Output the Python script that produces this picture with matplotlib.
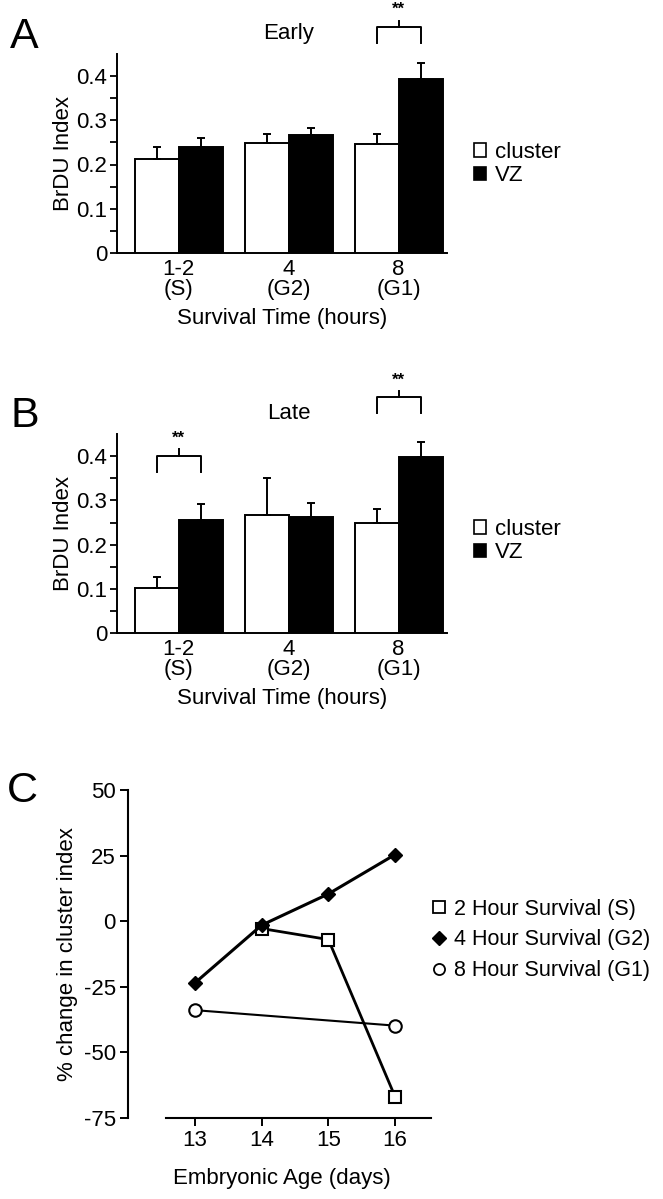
import numpy as np
import matplotlib
matplotlib.use('Agg')
import matplotlib.pyplot as plt
from matplotlib.patches import Patch
from matplotlib.lines import Line2D

plt.rcParams['font.family'] = ['Liberation Sans', 'DejaVu Sans']
plt.rcParams['axes.unicode_minus'] = False

# panel A / B data
groups = ['1-2\n(S)', '4\n(G2)', '8\n(G1)']
early_cluster = [0.212, 0.248, 0.246]
early_cluster_err = [0.028, 0.022, 0.022]
early_vz = [0.239, 0.267, 0.393]
early_vz_err = [0.021, 0.016, 0.036]

late_cluster = [0.102, 0.267, 0.248]
late_cluster_err = [0.026, 0.083, 0.033]
late_vz = [0.256, 0.263, 0.399]
late_vz_err = [0.035, 0.032, 0.033]

# significance brackets: group index and bracket height
early_sig = [(2, 0.511)]
late_sig = [(0, 0.401), (2, 0.533)]

# panel C data
ages = [13, 14, 15, 16]
surv_2h = [np.nan, -2.8, -7.0, -66.9]
surv_4h = [-23.5, -1.5, 10.4, 25.4]
surv_8h = [-33.9, np.nan, np.nan, -39.8]

W, H = 663, 1199
fig = plt.figure(figsize=(W / 100, H / 100), dpi=100)

FS = 16
w = 0.4


def px_axes(left, top, right, bottom):
    return fig.add_axes([left / W, 1 - bottom / H, (right - left) / W, (bottom - top) / H])


def bar_panel(ax, cl, cl_err, vz, vz_err, sig, title):
    x = np.arange(len(groups))
    ax.bar(x - w / 2, cl, w, color='white', edgecolor='black', linewidth=1.4,
           yerr=[np.zeros(3), cl_err], capsize=3,
           error_kw=dict(elinewidth=1.4, capthick=1.4, ecolor='black'), zorder=3)
    ax.bar(x + w / 2, vz, w, color='black', edgecolor='black', linewidth=1.4,
           yerr=[np.zeros(3), vz_err], capsize=3,
           error_kw=dict(elinewidth=1.4, capthick=1.4, ecolor='black'), zorder=3)
    ax.set_xlim(-0.56, 2.44)
    ax.set_ylim(0, 0.45)
    ax.set_yticks([0, 0.1, 0.2, 0.3, 0.4])
    ax.set_yticklabels(['0', '0.1', '0.2', '0.3', '0.4'])
    ax.set_yticks(np.arange(0.05, 0.45, 0.1), minor=True)
    ax.set_xticks(x)
    ax.set_xticklabels(groups, linespacing=0.95)
    ax.tick_params(axis='x', length=0, labelsize=FS, pad=4)
    ax.tick_params(axis='y', which='both', direction='out', length=5, width=1.3,
                   labelsize=FS, pad=2)
    for s in ['top', 'right']:
        ax.spines[s].set_visible(False)
    ax.spines['left'].set_linewidth(1.4)
    ax.spines['bottom'].set_linewidth(1.4)
    ax.set_ylabel('BrDU Index', fontsize=FS, labelpad=2)
    ax.set_xlabel('Survival Time (hours)', fontsize=FS, labelpad=6)
    for g, h in sig:
        x0, x1 = g - w / 2, g + w / 2
        ax.plot([x0, x0, x1, x1], [h - 0.036, h, h, h - 0.036], color='black',
                lw=1.4, clip_on=False)
        ax.plot([g, g], [h, h + 0.014], color='black', lw=1.4, clip_on=False)
        ax.text(g, h + 0.022, '**', ha='center', va='bottom', fontsize=12,
                fontweight='bold')
    ax.text(1, 0.497, title, ha='center', va='center', fontsize=FS)


axA = px_axes(117, 253 - 0.45 * 442.5, 447, 253)
bar_panel(axA, early_cluster, early_cluster_err, early_vz, early_vz_err, early_sig, 'Early')

axB = px_axes(117, 633.3 - 0.45 * 443, 447, 633.3)
bar_panel(axB, late_cluster, late_cluster_err, late_vz, late_vz_err, late_sig, 'Late')

bar_handles = [Patch(facecolor='white', edgecolor='black', linewidth=1.2, label='cluster'),
               Patch(facecolor='black', edgecolor='black', linewidth=1.2, label='VZ')]
for yc in [164 / H, 541 / H]:
    fig.legend(handles=bar_handles, loc='center left',
               bbox_to_anchor=(474 / W, 1 - yc), frameon=False, fontsize=FS,
               handlelength=0.55, handleheight=0.55, handletextpad=0.4,
               labelspacing=0.1, borderpad=0, borderaxespad=0)

# panel C
axC = px_axes(128.3, 790, 128.3 + 4.6 * 66.7, 1118)
axC.plot(ages, surv_4h, color='black', lw=2.2, marker='D', ms=7.5,
         mfc='black', mec='black', clip_on=False, zorder=4)
m2 = ~np.isnan(surv_2h)
axC.plot(np.array(ages)[m2], np.array(surv_2h)[m2], color='black', lw=2.0,
         marker='s', ms=9, mfc='white', mec='black', mew=1.5, clip_on=False, zorder=3)
m8 = ~np.isnan(surv_8h)
axC.plot(np.array(ages)[m8], np.array(surv_8h)[m8], color='black', lw=1.5,
         marker='o', ms=9, mfc='white', mec='black', mew=1.5, clip_on=False, zorder=3)
axC.set_xlim(12, 16.6)
axC.set_ylim(-75, 50)
axC.set_yticks([50, 25, 0, -25, -50, -75])
axC.set_xticks(ages)
for s in ['top', 'right']:
    axC.spines[s].set_visible(False)
axC.spines['left'].set_linewidth(1.5)
axC.spines['bottom'].set_linewidth(1.5)
axC.spines['bottom'].set_bounds(12.56, 16.54)
axC.tick_params(axis='both', direction='out', length=6, width=1.4, labelsize=FS, pad=3)
axC.set_ylabel('% change in cluster index', fontsize=FS, labelpad=4)
axC.set_xlabel('Embryonic Age (days)', fontsize=FS, labelpad=12)

line_handles = [
    Line2D([], [], ls='none', marker='s', ms=8, mfc='white', mec='black', mew=1.3,
           label='2 Hour Survival (S)'),
    Line2D([], [], ls='none', marker='D', ms=7.5, mfc='black', mec='black',
           label='4 Hour Survival (G2)'),
    Line2D([], [], ls='none', marker='o', ms=8, mfc='white', mec='black', mew=1.3,
           label='8 Hour Survival (G1)'),
]
fig.legend(handles=line_handles, loc='center left', bbox_to_anchor=(430 / W, 1 - 940 / H),
           frameon=False, fontsize=FS - 0.5, handlelength=0.8, handletextpad=0.3,
           labelspacing=0.45, borderpad=0, borderaxespad=0)

fig.text(10 / W, 1 - 48 / H, 'A', fontsize=31, ha='left', va='baseline')
fig.text(10 / W, 1 - 427 / H, 'B', fontsize=31, ha='left', va='baseline')
fig.text(7 / W, 1 - 802 / H, 'C', fontsize=31, ha='left', va='baseline')

fig.savefig('out.png', dpi=100)
